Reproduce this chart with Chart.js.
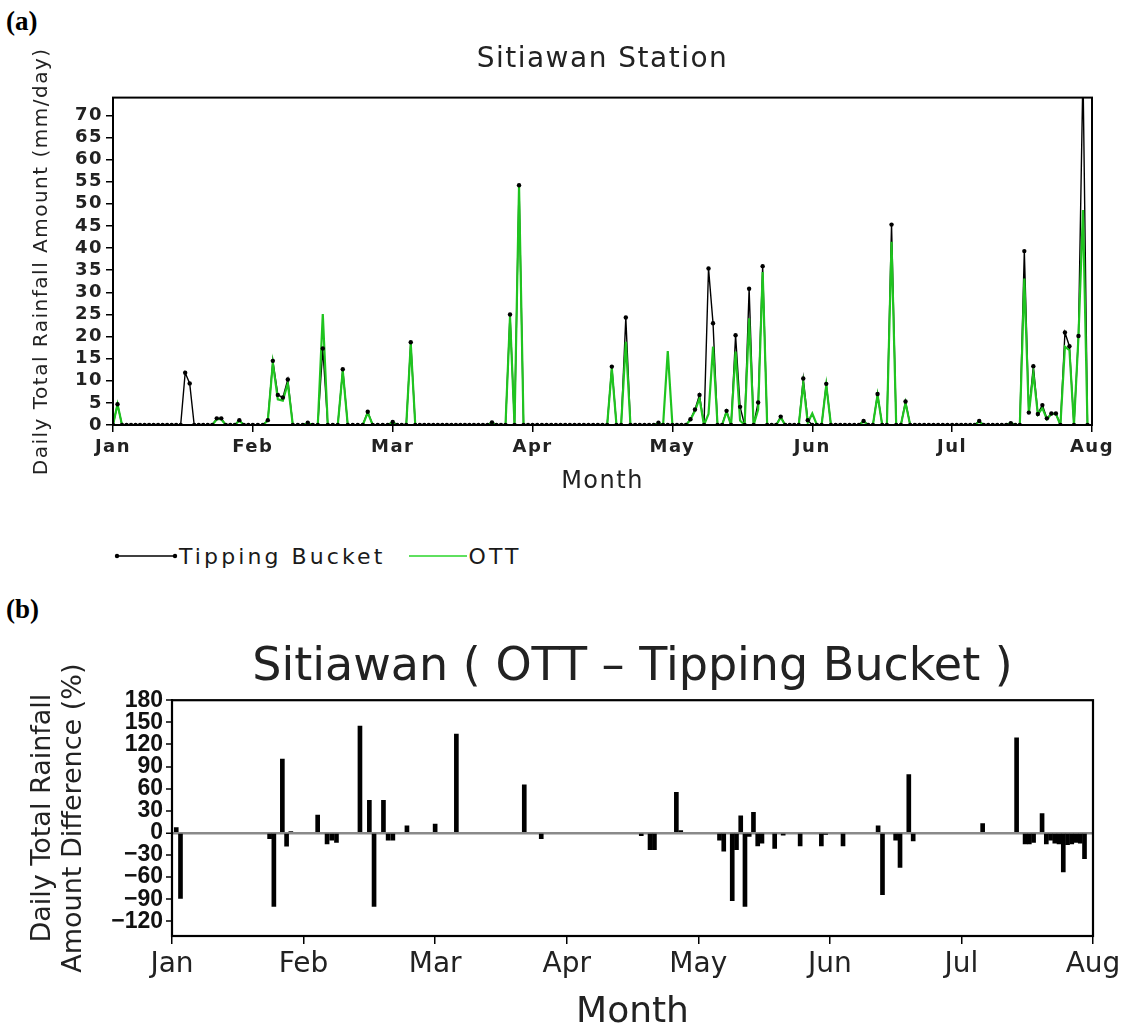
<!DOCTYPE html>
<html>
<head>
<meta charset="utf-8">
<script src="https://cdn.jsdelivr.net/npm/chart.js@4.4.1/dist/chart.umd.min.js"></script>
<style>
  body{margin:0;background:#fff;width:1129px;height:1034px;position:relative;overflow:hidden;font-family:"DejaVu Sans",sans-serif;color:#1a1a1a}
  .tag{position:absolute;left:6px;font:bold 27px "Liberation Serif","Times New Roman",serif;color:#000}
  #wrapA{position:absolute;left:0;top:0}
  #wrapB{position:absolute;left:0;top:590px}
  #legend{position:absolute;left:114px;top:543px;height:26px;display:flex;align-items:center;font-size:22px;letter-spacing:3.1px;white-space:nowrap}
  #legend svg{display:block}
  #legend span{margin:0 24px 0 1px}
</style>
</head>
<body>
<div class="tag" style="top:6px">(a)</div>
<div class="tag" style="top:594px">(b)</div>
<div id="wrapA"><canvas id="chartA" width="1129" height="500"></canvas></div>
<div id="legend">
  <svg width="64" height="8"><line x1="3" y1="4" x2="61" y2="4" stroke="#000" stroke-width="1.4"/><circle cx="3" cy="4" r="2.2" fill="#000"/><circle cx="61" cy="4" r="2.2" fill="#000"/></svg>
  <span>Tipping Bucket</span>
  <svg width="58" height="8"><line x1="0" y1="4" x2="58" y2="4" stroke="#5fe05f" stroke-width="2"/></svg>
  <span>OTT</span>
</div>
<div id="wrapB"><canvas id="chartB" width="1129" height="444"></canvas></div>

<script>
// axis labels / ticks
const monthNames = ["Jan","Feb","Mar","Apr","May","Jun","Jul","Aug"];
const monthStart = [0,31,59,90,120,151,181,212];   // day of year, 0 = Jan 1
const monthTicks = [0,1,2,3,4,5,6,7];
const rainTicks = [0,5,10,15,20,25,30,35,40,45,50,55,60,65,70];
const diffTicks = [-120,-90,-60,-30,0,30,60,90,120,150,180];

// (a) daily rainfall, only the days that are not zero (day of year)
const rainDays      = [1, 16, 17, 23, 24, 28, 34, 35, 36, 37, 38, 42, 45, 49, 54, 59, 63, 81, 85, 87,
                       107, 110, 117, 119, 124, 125, 126, 128, 129, 132, 134, 135, 137, 139, 140, 144,
                       149, 150, 151, 154, 162, 165, 168, 171, 187, 194, 197, 198, 199, 200, 201, 202,
                       203, 204, 206, 207, 209, 210];
const tippingBucket = [4.7, 11.8, 9.4, 1.5, 1.5, 1.1, 1.1, 14.5, 6.8, 6.2, 10.3, 0.5, 17.3, 12.6, 3.0, 0.7, 18.7, 0.6, 25.0, 54.2,
                       13.2, 24.3, 0.5, 0, 1.3, 3.5, 6.8, 35.4, 23.0, 3.2, 20.3, 4.1, 30.8, 5.1, 35.9, 1.9,
                       10.5, 1.1, 0, 9.3, 0.9, 7.0, 45.3, 5.3, 0.9, 0.4, 39.3, 2.8, 13.3, 2.5, 4.5, 1.5,
                       2.6, 2.6, 20.9, 17.8, 20.1, 80];
const ottGauge      = [4.7, 0, 0, 1.3, 1.3, 1.0, 1.0, 14.0, 5.8, 5.5, 9.4, 0.4, 25.1, 12.3, 2.8, 0.6, 18.4, 0.5, 24.5, 54.0,
                       12.8, 18.8, 0.4, 16.7, 1.2, 3.2, 6.0, 2.5, 17.7, 3.0, 16.6, 1.0, 24.1, 3.5, 34.6, 1.7,
                       9.4, 0.5, 2.6, 9.0, 0.8, 6.8, 41.4, 5.0, 0.8, 0.5, 33.1, 2.5, 11.7, 2.4, 3.8, 1.3,
                       2.5, 2.5, 17.7, 16.9, 20.0, 48.6];

// (b) OTT - tipping bucket difference (%)
const diffDays = [1, 2, 23, 24, 26, 27, 28, 34, 36, 37, 38, 43, 45, 46, 48, 49, 50, 53, 59, 64,
                  80, 84, 107, 109, 110, 115, 116, 125, 126, 128, 129, 130, 131, 132, 133, 134, 135, 138, 140, 144,
                  149, 150, 154, 162, 163, 166, 167, 169, 170, 186, 194, 196, 197, 198, 200, 201, 202, 203, 204, 205,
                  206, 207, 208, 209, 210];
const diffPct  = [7, -89, -8, -100, 100, -18, 1.5, 24, -15, -10, -13, 145, 44, -100, 44, -10, -10, 9.5, 12, 134,
                  65, -8, -4, -23, -23, 55, 3, -10, -25, -92, -23, 23, -100, -5, 28, -17.6, -14, -21, -3, -17.6,
                  -17.6, -2, -17.6, 9.5, -84, -10, -47, 79, -11, 12.6, 129, -15, -15, -13, 26, -15, -10, -14, -15, -53,
                  -16, -15, -13, -14, -35];

// every month gets the same width on the time axis
function monthPos(day){
  let m = 0;
  while(m < 6 && day >= monthStart[m+1]) m++;
  return m + (day - monthStart[m]) / (monthStart[m+1] - monthStart[m]);
}

function dailySeries(values){
  const out = [];
  for(let d = 0; d < monthStart[7]; d++){
    const i = rainDays.indexOf(d);
    out.push({x: monthPos(d), y: i >= 0 ? values[i] : 0});
  }
  return out;
}

const tbSeries = dailySeries(tippingBucket);
const ottSeries = dailySeries(ottGauge);
const diffSeries = diffDays.map((d,i)=>({x: monthPos(d), y: diffPct[i]}));

Chart.defaults.font.family = '"DejaVu Sans", sans-serif';
Chart.defaults.color = "#1a1a1a";

// box round the plot area
const framePlugin = {
  id: "frame",
  afterDraw(chart, args, opts){
    const {ctx, chartArea:{left, top, right, bottom}} = chart;
    ctx.save();
    ctx.strokeStyle = "#000";
    ctx.lineWidth = opts.width || 2;
    ctx.strokeRect(left, top, right-left, bottom-top);
    ctx.restore();
  }
};

// center the chart title over the plot area, not the whole canvas
const titleOverPlot = {
  id: "titleOverPlot",
  afterLayout(chart){
    const t = chart.titleBlock;
    if(!t) return;
    t.left = chart.chartArea.left;
    t.right = chart.chartArea.right;
    t.width = t.right - t.left;
  }
};

// wide letter spacing of the old plotting font
const spacingPlugin = {
  id: "spacing",
  beforeUpdate(chart, args, opts){ chart.ctx.letterSpacing = opts.value; },
  beforeDraw(chart, args, opts){ chart.ctx.letterSpacing = opts.value; }
};

const setTicks = vals => scale => { scale.ticks = vals.map(v=>({value:v})); };

new Chart(document.getElementById("chartA"), {
  type: "line",
  plugins: [framePlugin, titleOverPlot, spacingPlugin],
  data: {
    datasets: [
      {label:"Tipping Bucket", data: tbSeries, borderColor:"#000", borderWidth:1.4, pointRadius:0, tension:0, order:3},
      {label:"OTT", data: ottSeries, borderColor:"#1fc41f", borderWidth:2.2, pointRadius:0, tension:0, order:2},
      {label:"Tipping Bucket", data: tbSeries, showLine:false, pointRadius:2.2, pointBackgroundColor:"#000", pointBorderWidth:0, order:1}
    ]
  },
  options: {
    responsive: false,
    animation: false,
    layout: {padding: {left:0, right:37, top:0, bottom:0}},
    plugins: {
      legend: {display:false},
      tooltip: {enabled:false},
      frame: {width:2},
      spacing: {value:"1.5px"},
      title: {display:true, text:"Sitiawan Station", color:"#222", font:{size:28, weight:"normal"}, padding:{top:43, bottom:21}}
    },
    scales: {
      x: {
        type: "linear", min: 0, max: 7,
        afterBuildTicks: setTicks(monthTicks),
        afterFit: s => { s.height = 75; },
        ticks: {callback: v => monthNames[v], font:{size:18, weight:"bold"}, color:"#222", padding:5, maxRotation:0, autoSkip:false},
        grid: {drawOnChartArea:false, drawTicks:true, tickLength:7, color:"#000", lineWidth:1.5},
        border: {color:"#000", width:2},
        title: {display:true, text:"Month", color:"#222", font:{size:24}, padding:{top:0, bottom:4}}
      },
      y: {
        min: 0, max: 74,
        afterBuildTicks: setTicks(rainTicks),
        afterFit: s => { s.width = 113; },
        ticks: {font:{size:18, weight:"bold"}, color:"#222", padding:3, autoSkip:false},
        grid: {drawOnChartArea:false, drawTicks:true, tickLength:7, color:"#000", lineWidth:1.5},
        border: {color:"#000", width:2},
        title: {display:true, text:"Daily Total Rainfall Amount (mm/day)", color:"#222", font:{size:20}, padding:{top:30, bottom:0}}
      }
    }
  }
});

new Chart(document.getElementById("chartB"), {
  type: "bar",
  plugins: [framePlugin, titleOverPlot],
  data: {
    datasets: [{label:"OTT - Tipping Bucket", data: diffSeries, backgroundColor:"#000", barThickness:4}]
  },
  options: {
    responsive: false,
    animation: false,
    layout: {padding: {left:0, right:36, top:0, bottom:0}},
    plugins: {
      legend: {display:false},
      tooltip: {enabled:false},
      frame: {width:2.2},
      title: {display:true, text:"Sitiawan ( OTT \u2013 Tipping Bucket )", color:"#222", font:{size:46, weight:"normal"}, padding:{top:50, bottom:5}}
    },
    scales: {
      x: {
        type: "linear", min: 0, max: 7, offset: false,
        afterBuildTicks: setTicks(monthTicks),
        afterFit: s => { s.height = 98; },
        ticks: {callback: v => monthNames[v], font:{size:28}, color:"#222", padding:4, maxRotation:0, autoSkip:false},
        grid: {offset:false, drawOnChartArea:false, drawTicks:true, tickLength:8, color:"#000", lineWidth:1.5},
        border: {color:"#000", width:2},
        title: {display:true, text:"Month", color:"#222", font:{size:36}, padding:{top:0, bottom:0}}
      },
      y: {
        min: -140, max: 180,
        afterBuildTicks: setTicks(diffTicks),
        afterFit: s => { s.width = 172; },
        ticks: {
          callback: v => String(v).replace("-", "\u2212"),
          font:{family:'"Liberation Sans Narrow", "Liberation Sans", sans-serif', size:23, weight:"bold"}, color:"#111", padding:3, autoSkip:false
        },
        grid: {
          drawOnChartArea:true, drawTicks:true, tickLength:6,
          color: c => c.tick && c.tick.value === 0 ? "#8a8a8a" : "rgba(0,0,0,0)",
          lineWidth: c => c.tick && c.tick.value === 0 ? 2.5 : 0,
          tickColor:"#000", tickWidth:1.5
        },
        border: {color:"#000", width:2},
        title: {display:true, text:["Daily Total Rainfall","Amount Difference (%)"], color:"#222", font:{size:27, lineHeight:1.15}, padding:{top:27, bottom:0}}
      }
    }
  }
});
</script>
</body>
</html>
